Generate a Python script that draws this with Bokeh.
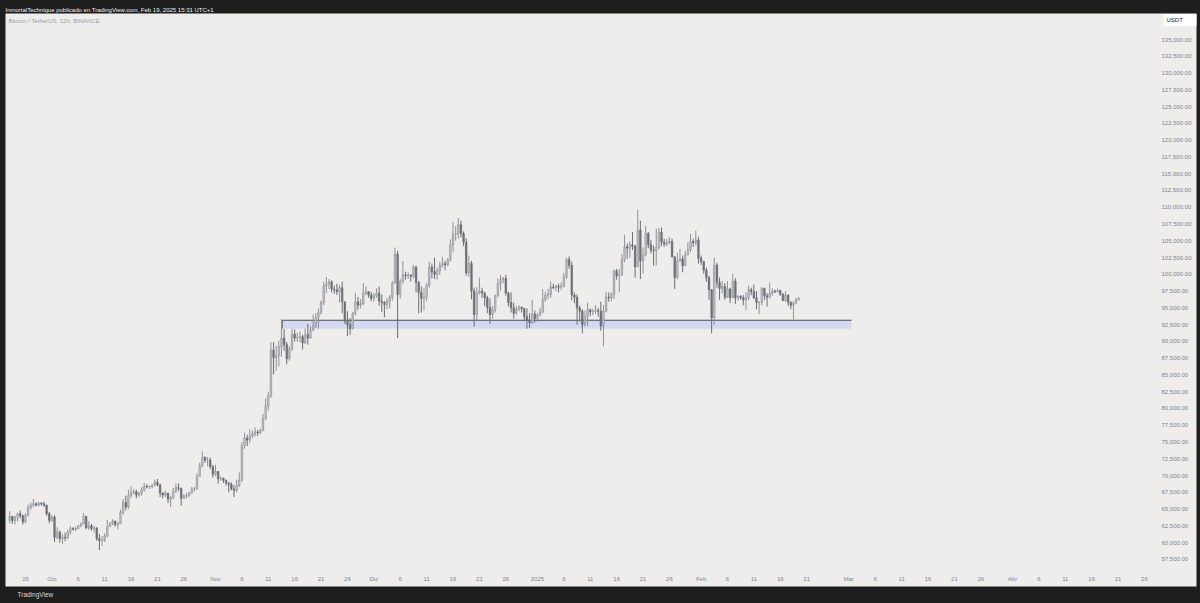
import numpy as np
import pandas as pd
from bokeh.plotting import figure
from bokeh.models import (ColumnDataSource, FixedTicker, NumeralTickFormatter, Title,
                          Label, Range1d, GlobalInlineStyleSheet)
from bokeh.embed import file_html
from bokeh.resources import INLINE

# ---------------- data (BTC/USDT, 12h candles, values in thousands of USDT) ----------------
FIRST_TIME = "2024-09-23 00:00"
FIRST_OPEN_K = 63.3

close_k = [
    63.9, 63.3, 63.8, 64.3, 64.0, 63.1, 64.1, 65.2, 65.6, 65.8,
    65.6, 65.9, 65.8, 65.6, 64.3, 63.3, 63.8, 60.8, 61.6, 60.6,
    60.8, 60.7, 61.6, 62.1, 62.0, 62.1, 62.5, 62.8, 63.9, 62.2,
    62.5, 62.1, 62.2, 60.6, 60.3, 60.3, 61.0, 62.4, 62.8, 63.2,
    62.7, 62.8, 64.5, 66.0, 65.3, 67.0, 67.5, 67.6, 67.1, 67.4,
    67.9, 68.4, 68.3, 68.4, 68.6, 69.0, 68.6, 67.4, 67.1, 67.4,
    66.5, 66.7, 67.6, 68.2, 68.1, 66.6, 67.0, 67.0, 67.4, 68.0,
    68.0, 69.9, 71.5, 72.7, 72.3, 72.3, 71.3, 70.2, 70.6, 69.5,
    69.6, 69.3, 68.9, 68.7, 68.0, 67.8, 68.5, 69.3, 74.5, 75.6,
    75.3, 75.9, 76.2, 76.5, 76.4, 76.7, 78.5, 80.4, 81.9, 88.7,
    87.6, 87.9, 89.2, 90.5, 89.5, 87.4, 88.9, 91.1, 90.5, 90.6,
    90.7, 89.8, 91.0, 90.5, 91.7, 92.3, 93.6, 94.3, 95.8, 98.3,
    98.5, 98.9, 97.8, 97.7, 97.4, 98.0, 95.9, 93.0, 92.5, 91.9,
    94.2, 95.9, 95.4, 95.6, 97.2, 97.4, 96.9, 96.4, 96.8, 97.2,
    96.0, 95.8, 95.5, 96.0, 96.6, 98.7, 103.0, 97.0, 99.0, 99.9,
    99.8, 99.9, 99.7, 101.1, 98.8, 97.3, 96.4, 96.6, 98.4, 101.1,
    100.4, 100.0, 100.5, 101.4, 101.6, 101.4, 102.2, 104.4, 106.0, 106.0,
    107.4, 106.1, 104.8, 100.2, 101.6, 97.5, 94.0, 97.2, 97.5, 97.2,
    96.5, 95.1, 94.0, 94.7, 96.8, 98.6, 99.2, 99.4, 97.2, 95.8,
    95.0, 94.2, 94.8, 95.1, 94.9, 93.7, 93.2, 92.8, 94.1, 93.4,
    94.0, 94.4, 96.2, 96.9, 97.0, 98.1, 98.0, 98.2, 98.1, 98.3,
    99.6, 102.2, 101.3, 96.9, 96.6, 95.0, 94.5, 92.5, 93.7, 94.7,
    94.4, 94.5, 94.6, 94.5, 92.3, 94.5, 96.6, 96.5, 97.0, 100.5,
    99.8, 99.9, 102.2, 104.1, 103.9, 104.4, 104.2, 101.1, 106.6, 102.0,
    102.9, 106.1, 104.4, 103.6, 103.5, 104.0, 106.3, 104.8, 104.5, 104.7,
    104.9, 102.6, 99.5, 102.0, 102.3, 101.3, 102.9, 103.7, 104.9, 104.7,
    105.1, 102.4, 101.9, 100.6, 99.5, 97.7, 93.5, 101.4, 98.8, 97.9,
    98.2, 96.6, 97.8, 96.5, 99.0, 96.5, 96.7, 96.5, 96.2, 96.5,
    97.7, 97.4, 96.5, 95.8, 95.8, 97.9, 96.8, 96.6, 97.2, 97.5,
    97.4, 97.6, 97.0, 96.1, 96.9, 95.8, 95.4, 95.7, 96.2, 96.4,
]

high_k = [
    64.7, 64.0, 64.0, 64.5, 64.8, 64.2, 64.4, 65.7, 66.0, 66.5,
    66.0, 66.1, 66.0, 66.1, 65.6, 64.6, 64.1, 64.1, 62.3, 61.8,
    61.3, 61.5, 61.9, 62.5, 62.3, 62.4, 62.6, 63.0, 64.4, 64.0,
    63.2, 62.8, 62.5, 62.3, 61.3, 61.0, 61.4, 63.4, 63.1, 63.5,
    63.3, 63.1, 64.9, 66.5, 67.0, 67.9, 68.4, 68.0, 67.9, 67.6,
    68.3, 68.9, 68.7, 68.5, 68.7, 69.4, 69.5, 68.8, 67.5, 67.8,
    67.4, 67.0, 68.2, 68.8, 68.8, 68.2, 67.2, 67.4, 67.6, 68.3,
    68.3, 70.3, 71.9, 73.6, 72.9, 72.8, 72.7, 71.6, 71.6, 70.7,
    69.9, 69.7, 69.4, 69.0, 69.0, 68.6, 69.4, 70.5, 75.0, 76.4,
    76.1, 76.9, 76.7, 77.2, 76.8, 77.0, 79.2, 81.5, 82.5, 89.9,
    89.9, 89.4, 90.1, 93.3, 91.8, 89.9, 89.3, 91.9, 91.8, 91.3,
    91.5, 91.0, 91.9, 92.6, 92.2, 94.0, 94.2, 94.9, 96.1, 98.9,
    99.6, 99.3, 99.1, 98.3, 98.6, 98.4, 98.9, 95.9, 94.5, 93.5,
    94.4, 97.2, 96.6, 96.3, 98.7, 98.2, 97.5, 97.4, 97.2, 97.9,
    98.2, 97.0, 96.0, 96.4, 96.9, 99.0, 104.0, 103.5, 99.3, 102.0,
    100.4, 100.3, 100.0, 101.4, 101.2, 99.0, 98.2, 98.0, 98.7, 101.9,
    101.6, 102.5, 101.0, 101.9, 102.6, 102.0, 102.4, 105.2, 107.8, 107.2,
    108.4, 108.0, 106.4, 105.4, 102.8, 102.0, 98.0, 98.1, 99.5, 98.0,
    97.4, 96.8, 96.4, 95.3, 97.0, 99.4, 99.9, 99.6, 99.9, 97.4,
    97.3, 95.8, 95.3, 95.4, 95.2, 95.0, 94.9, 94.2, 96.2, 94.6,
    94.2, 95.0, 97.8, 97.4, 97.8, 98.9, 98.6, 98.4, 98.6, 98.8,
    100.2, 102.5, 102.7, 101.9, 97.3, 97.0, 95.3, 94.8, 94.6, 95.8,
    94.9, 94.9, 95.4, 95.0, 95.9, 95.4, 97.4, 97.3, 97.3, 100.7,
    100.8, 100.8, 103.0, 105.9, 104.6, 104.9, 106.3, 104.4, 109.6, 108.0,
    104.0, 107.2, 106.3, 105.1, 104.3, 106.8, 106.9, 107.0, 105.3, 105.3,
    105.5, 105.3, 102.7, 103.2, 103.8, 102.8, 103.5, 104.8, 106.0, 105.3,
    106.5, 105.6, 102.8, 102.0, 101.0, 99.8, 97.8, 102.5, 101.7, 99.5,
    99.0, 98.7, 99.0, 98.0, 100.1, 99.4, 96.9, 96.9, 96.9, 97.3,
    98.3, 98.0, 98.5, 97.5, 96.0, 98.1, 98.0, 97.2, 98.8, 97.9,
    97.7, 97.9, 97.7, 97.2, 97.5, 97.0, 96.0, 96.0, 96.5, 96.6,
]

low_k = [
    62.9, 62.8, 62.7, 63.2, 63.6, 62.7, 62.9, 63.9, 64.9, 65.3,
    65.4, 65.4, 65.5, 65.3, 64.0, 62.9, 63.1, 60.1, 60.5, 60.0,
    59.8, 60.2, 60.5, 61.2, 61.8, 61.7, 62.0, 62.3, 62.7, 62.0,
    61.9, 61.8, 61.5, 60.3, 58.9, 59.5, 60.1, 60.8, 62.3, 62.6,
    62.4, 62.0, 62.8, 64.2, 64.8, 65.0, 66.7, 67.2, 66.6, 66.8,
    67.0, 67.6, 68.1, 68.0, 68.1, 68.4, 68.4, 66.8, 66.6, 66.8,
    65.9, 65.3, 66.5, 67.4, 67.7, 65.5, 66.5, 66.6, 66.8, 67.3,
    67.6, 67.9, 69.8, 71.2, 71.9, 71.4, 71.0, 69.7, 69.9, 68.8,
    69.2, 68.9, 68.5, 67.5, 67.8, 66.8, 67.5, 68.3, 69.1, 74.0,
    74.4, 74.9, 75.6, 75.8, 75.9, 76.2, 76.7, 78.3, 79.7, 81.6,
    85.1, 85.6, 86.3, 87.7, 88.6, 86.6, 87.1, 88.6, 90.0, 89.9,
    89.9, 88.8, 89.6, 89.5, 90.4, 91.5, 92.0, 91.9, 94.0, 95.4,
    97.2, 97.8, 97.3, 97.1, 96.9, 95.8, 94.2, 92.6, 90.8, 91.0,
    91.8, 93.9, 94.7, 94.9, 95.4, 96.9, 96.5, 96.0, 95.9, 96.5,
    95.3, 94.4, 93.6, 94.8, 94.9, 96.1, 98.6, 90.5, 96.4, 98.6,
    99.2, 99.3, 98.9, 99.4, 97.3, 94.2, 94.3, 94.6, 96.0, 98.0,
    99.4, 99.3, 99.2, 99.9, 101.0, 100.6, 101.2, 101.9, 103.3, 105.0,
    105.3, 105.5, 104.2, 99.8, 99.6, 96.3, 92.2, 93.0, 97.0, 96.5,
    95.3, 94.2, 92.6, 93.4, 94.3, 96.6, 97.6, 98.7, 96.8, 95.2,
    94.3, 93.4, 94.0, 94.5, 94.3, 93.0, 91.9, 92.0, 92.6, 92.8,
    92.9, 93.7, 94.2, 95.9, 96.3, 96.5, 97.8, 97.5, 97.3, 97.6,
    98.0, 99.3, 100.8, 96.1, 95.7, 92.5, 93.0, 91.2, 92.2, 92.3,
    93.8, 93.9, 94.1, 93.7, 91.6, 89.3, 94.3, 95.9, 96.0, 96.3,
    99.2, 97.3, 99.8, 101.8, 102.3, 102.5, 103.6, 99.5, 101.1, 99.3,
    100.1, 102.7, 103.9, 103.1, 101.3, 101.3, 103.7, 104.2, 104.1, 104.2,
    104.5, 102.5, 97.8, 99.3, 101.9, 100.3, 101.2, 102.8, 103.3, 104.1,
    104.3, 101.6, 101.4, 100.1, 98.9, 96.2, 91.2, 92.5, 98.0, 96.2,
    97.2, 96.2, 96.5, 95.7, 96.4, 95.6, 96.1, 96.2, 95.4, 94.7,
    96.1, 96.9, 96.3, 94.8, 94.1, 95.4, 96.2, 95.2, 96.4, 96.8,
    97.2, 97.3, 96.8, 96.0, 95.9, 95.3, 94.8, 93.3, 95.6, 96.1,
]

# support zone drawn on the chart
zone_start = "2024-11-13 15:00"
zone_end = "2025-03-01 12:00"
zone_bottom = 91900
zone_top = 93150

# axis ticks
date_ticks = ["2024-09-26", "2024-10-01", "2024-10-06", "2024-10-11", "2024-10-16", "2024-10-21",
              "2024-10-26", "2024-11-01", "2024-11-06", "2024-11-11", "2024-11-16", "2024-11-21",
              "2024-11-26", "2024-12-01", "2024-12-06", "2024-12-11", "2024-12-16", "2024-12-21",
              "2024-12-26", "2025-01-01", "2025-01-06", "2025-01-11", "2025-01-16", "2025-01-21",
              "2025-01-26", "2025-02-01", "2025-02-06", "2025-02-11", "2025-02-16", "2025-02-21",
              "2025-03-01", "2025-03-06", "2025-03-11", "2025-03-16", "2025-03-21", "2025-03-26",
              "2025-04-01", "2025-04-06", "2025-04-11", "2025-04-16", "2025-04-21", "2025-04-26"]
date_labels = ["26", "Oct", "6", "11", "16", "21", "26", "Nov", "6", "11", "16", "21", "26",
               "Dic", "6", "11", "16", "21", "26", "2025", "6", "11", "16", "21", "26",
               "Feb", "6", "11", "16", "21", "Mar", "6", "11", "16", "21", "26",
               "Abr", "6", "11", "16", "21", "26"]
price_ticks = [57500, 60000, 62500, 65000, 67500, 70000, 72500, 75000, 77500, 80000,
               82500, 85000, 87500, 90000, 92500, 95000, 97500, 100000, 102500, 105000,
               107500, 110000, 112500, 115000, 117500, 120000, 122500, 125000, 127500,
               130000, 132500, 135000]

header_text = "InmortalTechnique publicado en TradingView.com, Feb 19, 2025 15:31 UTC+1"
symbol_text = "Bitcoin / TetherUS, 12h, BINANCE"
currency_text = "USDT"

# ---------------- styling / layout constants (page = figure pixels) ----------------
DARK = "#1e1e1e"
PANEL = "#eeedec"
AXIS_TXT = "#80838c"
W, H = 1200, 603
B_LEFT, B_TOP, B_BOTTOM, B_RIGHT = 5, 13, 17, 4
FRAME_L, FRAME_R = B_LEFT, W - B_RIGHT
FRAME_T, FRAME_B = B_TOP, H - B_BOTTOM
PRICE_LABEL_X = 1161     # page x where price labels start
DATE_LABEL_TOP = 575     # page y where date labels start

ORIGIN = pd.Timestamp("2024-09-26")
ORIGIN_PX, PX_PER_DAY = 25.0, 5.278
Y135_PX, PX_PER_USD = 39.0, 0.006709
MS_DAY = 86400000.0
origin_ms = ORIGIN.value / 1e6


def px_to_ms(px):
    return origin_ms + (px - ORIGIN_PX) / PX_PER_DAY * MS_DAY


def py_to_usd(py):
    return 135000 - (py - Y135_PX) / PX_PER_USD


# ---------------- build ----------------
n = len(close_k)
times = pd.date_range(FIRST_TIME, periods=n, freq="12h")
close = np.array(close_k) * 1000
high = np.array(high_k) * 1000
low = np.array(low_k) * 1000
open_ = np.concatenate([[FIRST_OPEN_K * 1000], close[:-1]])
up = close >= open_


def src(mask):
    return ColumnDataSource(dict(t=times[mask], o=open_[mask], h=high[mask], l=low[mask], c=close[mask],
                                 top=np.maximum(open_, close)[mask], bot=np.minimum(open_, close)[mask]))


up_src, dn_src = src(up), src(~up)

p = figure(width=W, height=H, x_axis_type="datetime", y_axis_location="right",
           output_backend="svg", toolbar_location=None,
           x_range=Range1d(px_to_ms(FRAME_L), px_to_ms(FRAME_R)),
           y_range=Range1d(py_to_usd(FRAME_B), py_to_usd(FRAME_T)),
           min_border_left=B_LEFT, min_border_right=B_RIGHT, min_border_top=B_TOP,
           min_border_bottom=B_BOTTOM)
p.stylesheets.append(GlobalInlineStyleSheet(css="body{background:%s;}" % DARK))
p.border_fill_color = DARK
p.background_fill_color = PANEL
p.outline_line_color = None
p.grid.grid_line_color = None

# header
p.title.text = header_text
p.title.text_color = "#f0f0f0"
p.title.text_font = "Liberation Sans"
p.title.text_font_size = "6px"
p.title.text_font_style = "normal"
p.title.standoff = 2
p.title.offset = 0

# zone
zs, ze = pd.Timestamp(zone_start), pd.Timestamp(zone_end)
p.quad(left=[zs], right=[ze], bottom=[zone_bottom], top=[zone_top],
       fill_color="#d3d9ef", line_color=None)
p.segment(x0=[zs], y0=[zone_top], x1=[ze], y1=[zone_top], line_color="#4a4c52", line_width=1.2)
p.segment(x0=[zs], y0=[zone_bottom], x1=[zs], y1=[zone_top], line_color="#4a4c52", line_width=1)

# candles
bw = 0.6 * 12 * 3600 * 1000
p.segment(x0="t", y0="h", x1="t", y1="l", source=up_src, line_color="#8f929a", line_width=1)
p.segment(x0="t", y0="h", x1="t", y1="l", source=dn_src, line_color="#6a6d76", line_width=1)
p.vbar(x="t", width=bw, top="top", bottom="bot", source=up_src,
       fill_color="#c0c2c8", line_color="#8f929a", line_width=0.6)
p.vbar(x="t", width=bw, top="top", bottom="bot", source=dn_src,
       fill_color="#6e717a", line_color="#6a6d76", line_width=0.6)

# axes (labels drawn over the light panel, as in TradingView)
tick_ms = [int(pd.Timestamp(d).value // 10**6) for d in date_ticks]
xa = p.xaxis[0]
xa.ticker = FixedTicker(ticks=tick_ms)
xa.major_label_overrides = {k: v for k, v in zip(tick_ms, date_labels)}
xa.axis_line_color = None
xa.major_tick_line_color = None
xa.minor_tick_line_color = None
xa.major_tick_out = 0
xa.major_tick_in = 0
xa.major_label_standoff = DATE_LABEL_TOP - FRAME_B
xa.major_label_text_font = "Liberation Sans"
xa.major_label_text_font_size = "6px"
xa.major_label_text_color = AXIS_TXT

ya = p.yaxis[0]
ya.ticker = FixedTicker(ticks=price_ticks)
ya.formatter = NumeralTickFormatter(format="0,0.00", language="es")
ya.axis_line_color = None
ya.major_tick_line_color = None
ya.minor_tick_line_color = None
ya.major_tick_out = 0
ya.major_tick_in = 0
ya.major_label_standoff = PRICE_LABEL_X - FRAME_R
ya.major_label_text_font = "Liberation Sans"
ya.major_label_text_font_size = "6px"
ya.major_label_text_color = AXIS_TXT

# texts
p.add_layout(Label(x=3, y=py_to_usd(17), x_units="screen", text=symbol_text,
                   text_font="Liberation Sans", text_font_size="6px", text_color="#9a9ca3",
                   text_baseline="top"))
p.add_layout(Label(x=1163 - FRAME_L, y=py_to_usd(19.5), x_units="screen", text=currency_text,
                   text_font="Liberation Sans", text_font_size="6px", text_color="#202226",
                   text_baseline="middle", background_fill_color="#ffffff",
                   padding=dict(left=3, right=16, top=3, bottom=3)))
p.add_layout(Title(text="TradingView", text_color="#d8d8d8", text_font="Liberation Sans",
                   text_font_size="6.5px", text_font_style="normal", align="left",
                   offset=12, standoff=4), "below")

open("out.html", "w").write(file_html(p, INLINE))
